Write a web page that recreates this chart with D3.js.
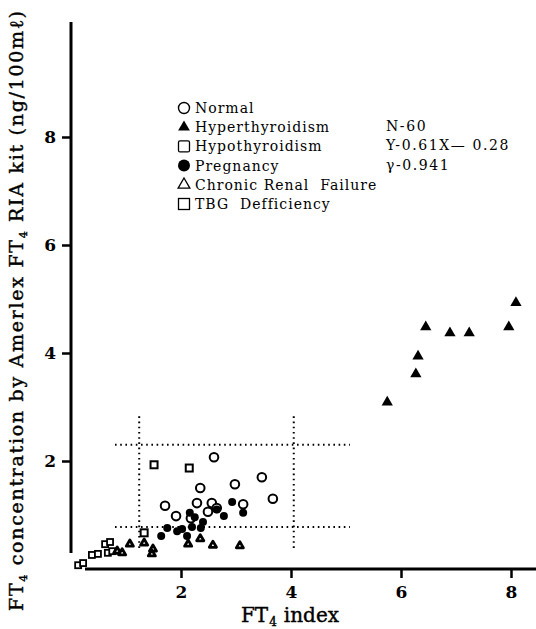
<!DOCTYPE html>
<html>
<head>
<meta charset="utf-8">
<script src="https://cdn.jsdelivr.net/npm/d3@7"></script>
<style>
html,body{margin:0;padding:0;background:#fff;}
svg{display:block;}
svg text{font-family:"DejaVu Serif","Liberation Serif",serif;}
</style>
</head>
<body>
<svg id="chart" width="536" height="629"></svg>
<script>
// ---------------- data ----------------
const xTicks = [2, 4, 6, 8];
const yTicks = [2, 4, 6, 8];

const normal = [[2.60,2.07],[2.35,1.50],[2.98,1.57],[3.47,1.70],[3.67,1.30],[1.71,1.17],[2.29,1.22],
  [2.56,1.22],[2.65,1.13],[2.49,1.06],[1.91,0.98],[2.18,0.94],[3.13,1.20]];
const hyperthyroidism = [[5.75,3.09],[6.27,3.61],[6.31,3.94],[6.45,4.48],[6.89,4.37],[7.24,4.37],[7.96,4.48],[8.09,4.93]];
const hypothyroidism = [[1.51,1.93],[2.15,1.87],[1.33,0.67]];
const pregnancy = [[2.16,1.04],[2.25,0.96],[2.40,0.87],[1.75,0.76],[1.93,0.70],[2.02,0.74],[2.20,0.78],
  [2.11,0.61],[2.36,0.76],[1.64,0.61],[2.93,1.24],[3.13,1.04],[2.78,0.98],[2.65,1.10]];
const renalFailure = [[0.84,0.33],[0.93,0.30],[1.07,0.46],[1.33,0.48],[1.49,0.37],[1.47,0.28],[2.13,0.46],
  [2.35,0.56],[2.58,0.44],[3.07,0.43]];
const tbgDeficiency = [[0.13,0.07],[0.22,0.11],[0.38,0.26],[0.49,0.28],[0.62,0.46],[0.71,0.50],[0.67,0.30],[0.75,0.33]];

const legendLabels = ["Normal","Hyperthyroidism","Hypothyroidism","Pregnancy","Chronic Renal  Failure","TBG  Defficiency"];
const statLines = ["N-60","Y-0.61X\u2014 0.28","\u03b3-0.941"];
const refX = [1.24, 4.05];   // vertical dotted reference lines
const refY = [0.78, 2.30];   // horizontal dotted reference lines
const refXSpan = [0.39, 2.83];
const refYSpan = [0.80, 5.07];

// ---------------- drawing ----------------
const svg = d3.select("#chart");
const x = d3.scaleLinear().domain([0, 8]).range([71, 511]);
const y = d3.scaleLinear().domain([0, 8]).range([569, 137]);
const serif = "DejaVu Serif";

// axes lines
svg.append("line").attr("x1", 71).attr("x2", 71).attr("y1", 22).attr("y2", 553)
  .attr("stroke", "#000").attr("stroke-width", 3);
svg.append("line").attr("x1", 85).attr("x2", 536).attr("y1", y(0)).attr("y2", y(0))
  .attr("stroke", "#000").attr("stroke-width", 3);

const xAxis = svg.append("g").attr("transform", `translate(0,${y(0)})`)
  .call(d3.axisBottom(x).tickValues(xTicks).tickSize(9).tickPadding(8));
xAxis.select(".domain").remove();
xAxis.selectAll(".tick line").attr("stroke", "#000").attr("stroke-width", 2.5);
xAxis.selectAll(".tick text").attr("font-family", serif).attr("font-size", 17)
  .attr("font-weight", "bold").attr("fill", "#000");

const yAxis = svg.append("g").attr("transform", `translate(71,0)`)
  .call(d3.axisLeft(y).tickValues(yTicks).tickSize(9).tickPadding(6));
yAxis.select(".domain").remove();
yAxis.selectAll(".tick line").attr("stroke", "#000").attr("stroke-width", 2.5);
yAxis.selectAll(".tick text").attr("font-family", serif).attr("font-size", 17)
  .attr("font-weight", "bold").attr("fill", "#000");

// axis titles
const xt = svg.append("text").attr("x", 290).attr("y", 622).attr("text-anchor", "middle")
  .attr("font-family", serif).attr("font-size", 20).attr("fill", "#000")
  .attr("stroke", "#000").attr("stroke-width", 0.4);
xt.append("tspan").text("FT");
xt.append("tspan").attr("font-size", 12).attr("dy", 4).attr("dx", 1).text("4");
xt.append("tspan").attr("dy", -4).attr("dx", 7).text("index");

const yt = svg.append("text").attr("transform", "translate(23,311) rotate(-90)")
  .attr("text-anchor", "middle").attr("font-family", serif).attr("font-size", 19).attr("fill", "#000")
  .attr("stroke", "#000").attr("stroke-width", 0.4)
  .attr("textLength", 600).attr("lengthAdjust", "spacing");
yt.append("tspan").text("FT");
yt.append("tspan").attr("font-size", 11).attr("dy", 4).text("4");
yt.append("tspan").attr("dy", -4).text(" concentration by Amerlex FT");
yt.append("tspan").attr("font-size", 11).attr("dy", 4).text("4");
yt.append("tspan").attr("dy", -4).text(" RIA kit (ng/100m\u2113)");

// dotted reference lines
const dot = g => g.attr("stroke", "#000").attr("stroke-width", 2).attr("stroke-dasharray", "1.6 3.6");
refX.forEach(v => svg.append("line").attr("x1", x(v)).attr("x2", x(v))
  .attr("y1", y(refXSpan[0])).attr("y2", y(refXSpan[1])).call(dot));
refY.forEach(v => svg.append("line").attr("x1", x(refYSpan[0])).attr("x2", x(refYSpan[1]))
  .attr("y1", y(v)).attr("y2", y(v)).call(dot));

// markers
const tri = d3.symbol().type(d3.symbolTriangle);
const pts = svg.append("g");
pts.selectAll(".nrm").data(normal).join("circle")
  .attr("cx", d => x(d[0])).attr("cy", d => y(d[1])).attr("r", 4.3)
  .attr("fill", "#fff").attr("stroke", "#000").attr("stroke-width", 2);
pts.selectAll(".prg").data(pregnancy).join("circle")
  .attr("cx", d => x(d[0])).attr("cy", d => y(d[1])).attr("r", 4)
  .attr("fill", "#000");
pts.selectAll(".hyp").data(hypothyroidism).join("rect")
  .attr("x", d => x(d[0]) - 3.5).attr("y", d => y(d[1]) - 3.5).attr("width", 7).attr("height", 7)
  .attr("fill", "#fff").attr("stroke", "#000").attr("stroke-width", 2);
pts.selectAll(".tbg").data(tbgDeficiency).join("rect")
  .attr("x", d => x(d[0]) - 3).attr("y", d => y(d[1]) - 3).attr("width", 6).attr("height", 6)
  .attr("fill", "#fff").attr("stroke", "#000").attr("stroke-width", 1.8);
pts.selectAll(".ren").data(renalFailure).join("path")
  .attr("transform", d => `translate(${x(d[0])},${y(d[1])})`).attr("d", tri.size(22)())
  .attr("fill", "#fff").attr("stroke", "#000").attr("stroke-width", 2.8).attr("stroke-linejoin", "round");
pts.selectAll(".hyper").data(hyperthyroidism).join("path")
  .attr("transform", d => `translate(${x(d[0])},${y(d[1])})`).attr("d", tri.size(55)())
  .attr("fill", "#000");

// legend
const lg = svg.append("g");
const rowY = i => 108 + i * 19.2;
const lx = 184;
lg.append("circle").attr("cx", lx).attr("cy", rowY(0)).attr("r", 5.5).attr("fill", "#fff").attr("stroke", "#000").attr("stroke-width", 1.4);
lg.append("path").attr("transform", `translate(${lx},${rowY(1)})`).attr("d", tri.size(60)()).attr("fill", "#000");
lg.append("rect").attr("x", lx - 5.5).attr("y", rowY(2) - 5.5).attr("width", 11).attr("height", 11).attr("rx", 1.5)
  .attr("fill", "#fff").attr("stroke", "#000").attr("stroke-width", 1.3);
lg.append("circle").attr("cx", lx).attr("cy", rowY(3)).attr("r", 6).attr("fill", "#000");
lg.append("path").attr("transform", `translate(${lx},${rowY(4)})`).attr("d", tri.size(60)()).attr("fill", "#fff").attr("stroke", "#000").attr("stroke-width", 1.3);
lg.append("rect").attr("x", lx - 5.5).attr("y", rowY(5) - 5.5).attr("width", 11).attr("height", 11)
  .attr("fill", "#fff").attr("stroke", "#000").attr("stroke-width", 1.3);
lg.selectAll(".lt").data(legendLabels).join("text")
  .attr("x", 195).attr("y", (d, i) => rowY(i) + 5)
  .attr("font-family", serif).attr("font-size", 14).attr("letter-spacing", 1)
  .style("white-space", "pre")
  .attr("fill", "#000").text(d => d);
lg.selectAll(".st").data(statLines).join("text")
  .attr("x", 386).attr("y", (d, i) => rowY(i + 1) + 4)
  .attr("font-family", serif).attr("font-size", 14).attr("letter-spacing", 1.6)
  .style("white-space", "pre")
  .attr("fill", "#000").text(d => d);
</script>
</body>
</html>
